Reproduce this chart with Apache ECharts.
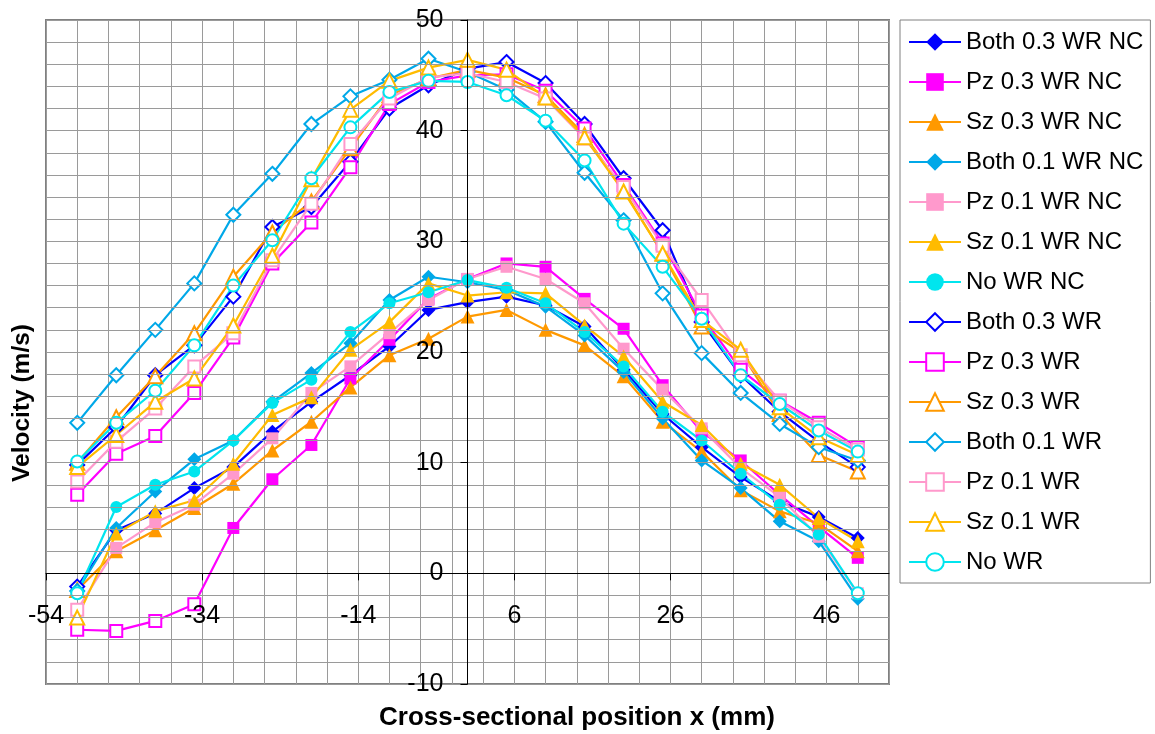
<!DOCTYPE html>
<html>
<head>
<meta charset="utf-8">
<script src="https://cdn.jsdelivr.net/npm/echarts@6/dist/echarts.min.js"></script>
<style>
  html, body { margin: 0; padding: 0; background: #ffffff; }
  #chart { width: 1155px; height: 734px; }
</style>
</head>
<body>
<div id="chart"></div>
<script>
// Cross-sectional positions (mm) where velocity was measured
const positions = [-50, -45, -40, -35, -30, -25, -20, -15, -10, -5, 0, 5, 10, 15, 20, 25, 30, 35, 40, 45, 50];

// Velocity profiles (m/s), one array per configuration
const both03NC = [-1.2, 3.9, 5.4, 7.7, 9.6, 12.8, 15.5, 17.9, 20.5, 23.8, 24.5, 25.0, 24.2, 22.3, 18.4, 14.4, 11.4, 8.7, 6.5, 5.1, 3.2];
const pz03NC   = [-5.1, -5.2, -4.3, -2.8, 4.1, 8.5, 11.6, 17.6, 21.1, 24.8, 26.6, 28.0, 27.7, 24.8, 22.1, 17.0, 12.8, 10.2, 7.1, 4.2, 1.4];
const sz03NC   = [-1.5, 2.0, 3.9, 5.9, 8.1, 11.1, 13.7, 16.8, 19.7, 21.2, 23.2, 23.8, 22.0, 20.6, 17.8, 13.7, 11.0, 7.5, 5.6, 4.5, 2.0];
const both01NC = [-1.6, 4.1, 7.4, 10.3, 12.0, 15.5, 18.1, 20.8, 24.7, 26.8, 26.3, 25.6, 24.1, 21.5, 18.2, 14.0, 10.2, 7.7, 4.7, 2.9, -2.3];
const pz01NC   = [-3.3, 2.3, 4.6, 6.2, 9.0, 12.2, 16.3, 18.7, 21.7, 24.7, 26.6, 27.7, 26.6, 24.4, 20.3, 16.6, 13.1, 9.5, 6.9, 3.3, -1.8];
const sz01NC   = [-4.0, 3.6, 5.6, 6.6, 9.9, 14.3, 15.9, 20.2, 22.7, 26.2, 25.1, 25.4, 25.3, 22.4, 19.6, 15.5, 13.4, 9.9, 8.0, 5.0, 2.9];
const noWRNC   = [-1.8, 6.0, 8.0, 9.2, 12.0, 15.4, 17.5, 21.8, 24.4, 25.4, 26.5, 25.8, 24.4, 21.8, 18.7, 14.6, 12.0, 9.0, 6.2, 3.5, -1.8];
const both03WR = [9.8, 13.2, 17.9, 20.6, 25.0, 31.3, 33.1, 37.2, 42.0, 44.1, 45.6, 46.2, 44.3, 40.6, 35.7, 31.0, 22.7, 17.9, 14.6, 11.9, 9.6];
const pz03WR   = [7.1, 10.8, 12.4, 16.3, 21.3, 28.0, 31.7, 36.7, 42.4, 44.4, 45.0, 45.1, 43.6, 40.2, 35.1, 29.8, 23.3, 18.4, 15.6, 13.6, 11.4];
const sz03WR   = [10.0, 14.1, 17.8, 21.7, 26.8, 30.8, 33.6, 38.4, 43.2, 44.7, 45.5, 44.8, 43.2, 39.6, 34.6, 28.9, 22.3, 20.0, 14.4, 10.7, 9.2];
const both01WR = [13.6, 17.9, 22.0, 26.2, 32.4, 36.1, 40.6, 43.1, 44.6, 46.5, 45.3, 43.7, 40.8, 36.2, 31.9, 25.3, 19.9, 16.3, 13.5, 11.4, 10.2];
const pz01WR   = [8.3, 11.9, 14.9, 18.7, 21.7, 28.3, 33.4, 38.8, 42.9, 44.8, 45.2, 44.4, 42.9, 39.3, 34.9, 29.6, 24.7, 19.7, 15.6, 13.2, 11.2];
const sz01WR   = [9.6, 12.5, 15.5, 17.6, 22.4, 28.7, 35.6, 41.9, 44.5, 45.7, 46.4, 45.5, 43.0, 39.4, 34.5, 28.9, 22.9, 20.2, 15.0, 12.3, 10.7];
const noWR     = [10.1, 13.6, 16.5, 20.6, 26.0, 30.1, 35.7, 40.3, 43.5, 44.5, 44.4, 43.2, 40.9, 37.3, 31.6, 27.7, 23.0, 17.9, 15.3, 12.9, 11.0];

// Axis ticks
const xTickStart = -54, xTickEnd = 54, xTickStep = 20, xGridStep = 4;
const yTickStart = -10, yTickEnd = 50, yTickStep = 10;

// Points of the NC profiles that are drawn with an open marker
const pz03NCOpenPoints = [0, 1, 2, 3];
const ncFirstOpen = [0];
const noWRNCOpenPoints = [0, 20];

const FONT = '"Liberation Sans", Arial, sans-serif';

const seriesDefs = [
  { name: 'Both 0.3 WR NC', values: both03NC, color: '#0000FF', symbol: 'diamond',  size: 14, open: false, openPoints: ncFirstOpen },
  { name: 'Pz 0.3 WR NC',   values: pz03NC,   color: '#FF00FF', symbol: 'rect',     size: 12, open: false, openPoints: pz03NCOpenPoints },
  { name: 'Sz 0.3 WR NC',   values: sz03NC,   color: '#FF9900', symbol: 'triangle', size: 14, open: false, openPoints: ncFirstOpen },
  { name: 'Both 0.1 WR NC', values: both01NC, color: '#00A8E8', symbol: 'diamond',  size: 14, open: false, openPoints: ncFirstOpen },
  { name: 'Pz 0.1 WR NC',   values: pz01NC,   color: '#FF99CC', symbol: 'rect',     size: 12, open: false, openPoints: ncFirstOpen },
  { name: 'Sz 0.1 WR NC',   values: sz01NC,   color: '#FFBB00', symbol: 'triangle', size: 14, open: false, openPoints: ncFirstOpen },
  { name: 'No WR NC',       values: noWRNC,   color: '#00E5EE', symbol: 'circle',   size: 12, open: false, openPoints: noWRNCOpenPoints },
  { name: 'Both 0.3 WR',    values: both03WR, color: '#0000FF', symbol: 'diamond',  size: 14, open: true },
  { name: 'Pz 0.3 WR',      values: pz03WR,   color: '#FF00FF', symbol: 'rect',     size: 12, open: true },
  { name: 'Sz 0.3 WR',      values: sz03WR,   color: '#FF9900', symbol: 'triangle', size: 14, open: true },
  { name: 'Both 0.1 WR',    values: both01WR, color: '#00A8E8', symbol: 'diamond',  size: 14, open: true },
  { name: 'Pz 0.1 WR',      values: pz01WR,   color: '#FF99CC', symbol: 'rect',     size: 12, open: true },
  { name: 'Sz 0.1 WR',      values: sz01WR,   color: '#FFBB00', symbol: 'triangle', size: 14, open: true },
  { name: 'No WR',          values: noWR,     color: '#00E5EE', symbol: 'circle',   size: 12, open: true }
];

function emptyName(sym) {
  return 'empty' + sym.charAt(0).toUpperCase() + sym.slice(1);
}

const series = seriesDefs.map(function (d) {
  const openSet = d.openPoints || [];
  const data = d.values.map(function (v, i) {
    const item = { value: [positions[i], v] };
    if (openSet.indexOf(i) >= 0) {
      item.symbol = emptyName(d.symbol);
      item.itemStyle = { borderWidth: 2 };
    }
    return item;
  });
  return {
    name: d.name,
    type: 'line',
    xAxisIndex: 0,
    yAxisIndex: 0,
    data: data,
    symbol: d.open ? emptyName(d.symbol) : d.symbol,
    symbolSize: d.size,
    showAllSymbol: true,
    color: d.color,
    lineStyle: { color: d.color, width: 2.2 },
    itemStyle: { color: d.color, borderColor: d.color, borderWidth: d.open ? 2 : 0 },
    emphasis: { disabled: true },
    animation: false
  };
});

const chart = echarts.init(document.getElementById('chart'), null, { renderer: 'canvas' });

chart.setOption({
  backgroundColor: '#ffffff',
  animation: false,
  grid: {
    left: 46, top: 20, right: 266, bottom: 50,
    containLabel: false,
    outerBoundsMode: 'none',
    show: true,
    borderColor: '#808080',
    borderWidth: 2,
    backgroundColor: '#ffffff'
  },
  xAxis: [
    {
      type: 'value',
      min: xTickStart, max: xTickEnd, interval: xTickStep,
      position: 'bottom',
      offset: 0,
      axisLine: { show: true, onZero: false, lineStyle: { color: '#000000', width: 1 } },
      axisTick: { show: true, length: 7, lineStyle: { color: '#000000', width: 1 } },
      axisLabel: { fontFamily: FONT, fontSize: 25, color: '#000000', margin: 30, showMaxLabel: false },
      splitLine: { show: false },
      z: 5
    },
    {
      type: 'value',
      min: xTickStart, max: xTickEnd, interval: xGridStep,
      position: 'top',
      axisLine: { show: false, onZero: false },
      axisTick: { show: false },
      axisLabel: { show: false },
      splitLine: { show: true, lineStyle: { color: '#9a9a9a', width: 1 } }
    }
  ],
  yAxis: {
    type: 'value',
    min: yTickStart, max: yTickEnd, interval: yTickStep,
    position: 'left',
    offset: 0,
    axisLine: { show: true, onZero: false, lineStyle: { color: '#000000', width: 1 } },
    axisTick: { show: true, length: 7, lineStyle: { color: '#000000', width: 1 } },
    axisLabel: { fontFamily: FONT, fontSize: 25, color: '#000000', margin: 24 },
    splitLine: { show: true, lineStyle: { color: '#9a9a9a', width: 1 } },
    minorTick: { show: false, splitNumber: 5 },
    minorSplitLine: { show: true, lineStyle: { color: '#9a9a9a', width: 1 } },
    z: 5
  },
  legend: {
    orient: 'vertical',
    left: 900, top: 20,
    padding: [9, 7, 8, 8],
    itemWidth: 52,
    itemHeight: 22,
    itemGap: 14,
    itemTextGap: 6,
    borderColor: '#808080',
    borderWidth: 1,
    backgroundColor: '#ffffff',
    selectedMode: false,
    textStyle: { fontFamily: FONT, fontSize: 24, color: '#000000', lineHeight: 26 },
    data: seriesDefs.map(function (d) { return d.name; })
  },
  graphic: [
    {
      type: 'text',
      x: 577, y: 718,
      style: {
        text: 'Cross-sectional position x (mm)',
        font: 'bold 26px ' + FONT,
        fill: '#000000',
        align: 'center',
        verticalAlign: 'middle'
      }
    },
    {
      type: 'text',
      x: 22, y: 403,
      rotation: Math.PI / 2,
      style: {
        text: 'Velocity (m/s)',
        font: 'bold 24.5px ' + FONT,
        fill: '#000000',
        align: 'center',
        verticalAlign: 'middle'
      }
    }
  ],
  series: series
});

// Move both axes so that they cross at the origin (x = 0, velocity = 0)
const xZeroPx = chart.convertToPixel({ xAxisIndex: 0 }, 0);
const xMinPx = chart.convertToPixel({ xAxisIndex: 0 }, xTickStart);
const yZeroPx = chart.convertToPixel({ yAxisIndex: 0 }, 0);
const yMinPx = chart.convertToPixel({ yAxisIndex: 0 }, yTickStart);
chart.setOption({
  xAxis: [{ offset: -(yMinPx - yZeroPx) }, {}],
  yAxis: { offset: -(xZeroPx - xMinPx) }
});
</script>
</body>
</html>
